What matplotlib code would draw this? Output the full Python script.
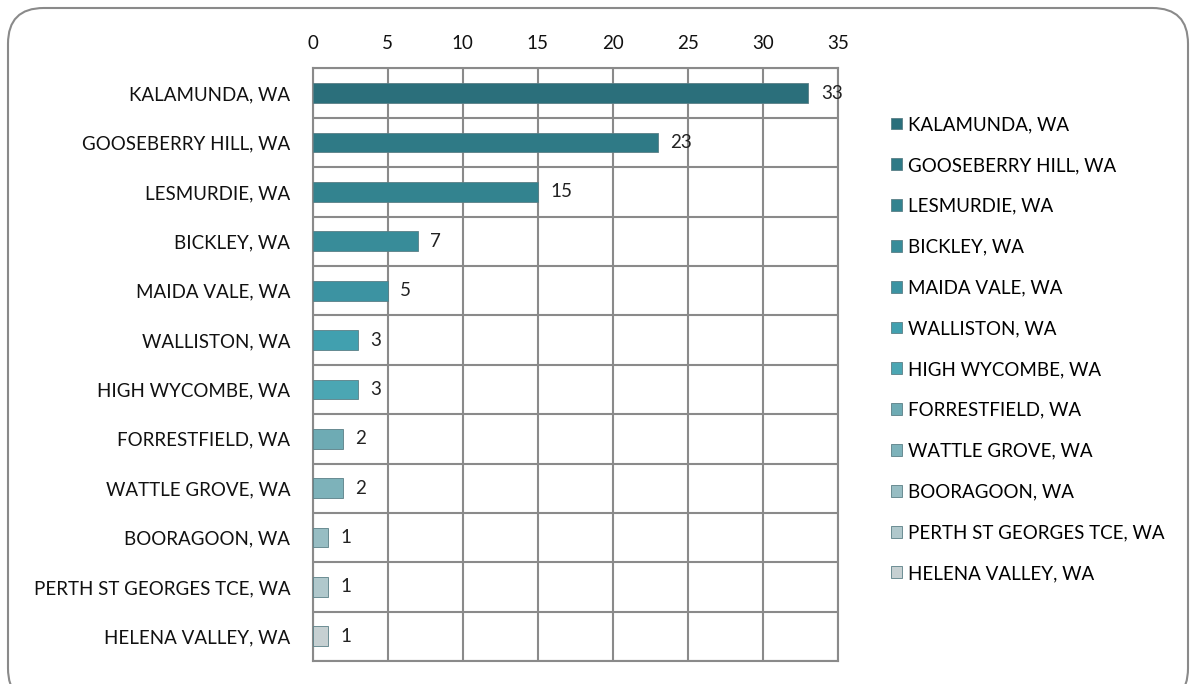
import matplotlib.pyplot as plt
from matplotlib.patches import FancyBboxPatch
import numpy as np

suburbs = ['KALAMUNDA, WA', 'GOOSEBERRY HILL, WA', 'LESMURDIE, WA', 'BICKLEY, WA',
           'MAIDA VALE, WA', 'WALLISTON, WA', 'HIGH WYCOMBE, WA', 'FORRESTFIELD, WA',
           'WATTLE GROVE, WA', 'BOORAGOON, WA', 'PERTH ST GEORGES TCE, WA', 'HELENA VALLEY, WA']
counts = [33, 23, 15, 7, 5, 3, 3, 2, 2, 1, 1, 1]
colors = ['#2b6f7b', '#2f7a86', '#33838f', '#388c99', '#3c93a2', '#41a0af',
          '#4ba6b3', '#6eabb4', '#7db2ba', '#97bdc3', '#b0c8cc', '#c6d0d2']
xticks = [0, 5, 10, 15, 20, 25, 30, 35]

plt.rcParams['font.family'] = ['Lato', 'DejaVu Sans']
fs = 13.5

fig = plt.figure(figsize=(11.9, 6.84), dpi=100)
ax = fig.add_axes([0.2627, 0.0336, 0.4418, 0.8663])

y = np.arange(len(suburbs))
bars = ax.barh(y, counts, height=0.4, color=colors, edgecolor='#5a7f86', linewidth=0.6, zorder=3)

for yi, v in zip(y, counts):
    ax.annotate(str(v), (v, yi), xytext=(9, 0), textcoords='offset points',
                va='center', ha='left', fontsize=fs, color='#222222', zorder=4)

ax.set_xlim(0, 35)
ax.set_ylim(len(suburbs) - 0.5, -0.5)
ax.set_xticks(xticks)
ax.set_yticks(y)
ax.set_yticklabels(suburbs)
ax.set_yticks(np.arange(len(suburbs) + 1) - 0.5, minor=True)
ax.xaxis.tick_top()
ax.tick_params(axis='x', length=0, pad=12, labelsize=fs, colors='#111111')
ax.tick_params(axis='y', which='major', length=0, pad=16, labelsize=fs, colors='#111111')
ax.tick_params(axis='y', which='minor', length=0)
ax.grid(axis='x', color='#8a8a8a', linewidth=1.5, zorder=1)
ax.grid(axis='y', which='minor', color='#8a8a8a', linewidth=1.5, zorder=1)
for s in ax.spines.values():
    s.set_color('#8a8a8a')
    s.set_linewidth(1.5)

fig.legend(bars, suburbs, loc='upper left', bbox_to_anchor=(0.7405, 0.844),
           frameon=False, fontsize=fs, handlelength=0.6, handleheight=0.6,
           handletextpad=0.35, labelspacing=1.27, borderpad=0)

# rounded chart border
border = FancyBboxPatch((8 / 1190, -20 / 684), 1180 / 1190, 696 / 684,
                        boxstyle='round,pad=0,rounding_size=0.03',
                        transform=fig.transFigure, facecolor='none',
                        edgecolor='#8a8a8a', linewidth=1.5, mutation_aspect=1190 / 684)
fig.patches.append(border)

fig.text(0.003, 1.0 + 9 / 684, 'Suburb', fontsize=fs, va='baseline', ha='left', color='#222222')

fig.savefig('out.png', dpi=100)
